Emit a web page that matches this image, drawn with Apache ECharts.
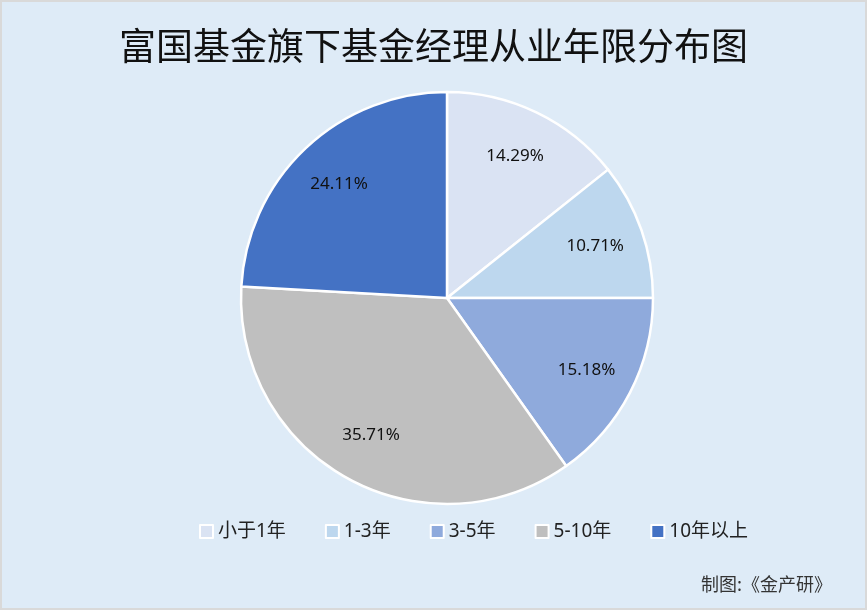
<!DOCTYPE html>
<html>
<head>
<meta charset="utf-8">
<script src="https://cdn.jsdelivr.net/npm/echarts@6/dist/echarts.min.js"></script>
<style>
html,body{margin:0;padding:0;background:#fff;}
#c{position:absolute;left:0;top:0;width:863px;height:606px;border:2px solid #d9d9d9;}
</style>
</head>
<body>
<div id="c"></div>
<script>
const titleText = '富国基金旗下基金经理从业年限分布图';
const categories = ['小于1年', '1-3年', '3-5年', '5-10年', '10年以上'];
const values = [14.29, 10.71, 15.18, 35.71, 24.11];
const colors = ['#dae3f3', '#bdd7ee', '#8faadc', '#bfbfbf', '#4472c4'];
const sourceText = '制图:《金产研》';

const data = categories.map((n, i) => ({ name: n, value: values[i], itemStyle: { color: colors[i] } }));
const chart = echarts.init(document.getElementById('c'));
const font = '"Noto Sans", "Noto Sans CJK SC", sans-serif';
chart.setOption({
  backgroundColor: '#deebf7',
  animation: false,
  title: {
    text: titleText,
    left: 'center',
    top: 20,
    textStyle: { fontSize: 37, fontWeight: 'normal', color: '#111', fontFamily: '"Noto Sans CJK SC", sans-serif' }
  },
  legend: {
    data: categories,
    top: 515,
    left: 192,
    icon: 'rect',
    itemWidth: 13,
    itemHeight: 13,
    itemGap: 39,
    itemStyle: { borderColor: '#ffffff', borderWidth: 2 },
    textStyle: { fontSize: 19, color: '#222', fontFamily: font }
  },
  graphic: [{
    type: 'text',
    left: 699,
    top: 573,
    style: { text: sourceText, fill: '#333', fontSize: 18, fontFamily: '"Noto Sans CJK SC", sans-serif' }
  }],
  series: [
    {
      type: 'pie',
      center: [445, 296],
      radius: [0, 206],
      startAngle: 90,
      clockwise: true,
      data: data,
      label: { show: false },
      labelLine: { show: false },
      itemStyle: { borderColor: '#ffffff', borderWidth: 2.5 },
      emphasis: { disabled: true }
    },
    {
      type: 'pie',
      center: [445, 296],
      radius: [102, 206],
      startAngle: 90,
      clockwise: true,
      silent: true,
      data: data.map(d => ({ name: d.name, value: d.value, itemStyle: { color: 'rgba(0,0,0,0)' } })),
      label: {
        show: true,
        position: 'inside',
        formatter: '{c}%',
        fontSize: 17,
        color: '#111',
        fontFamily: font
      },
      labelLine: { show: false },
      itemStyle: { borderWidth: 0 },
      emphasis: { disabled: true },
      tooltip: { show: false }
    }
  ]
});
</script>
</body>
</html>
